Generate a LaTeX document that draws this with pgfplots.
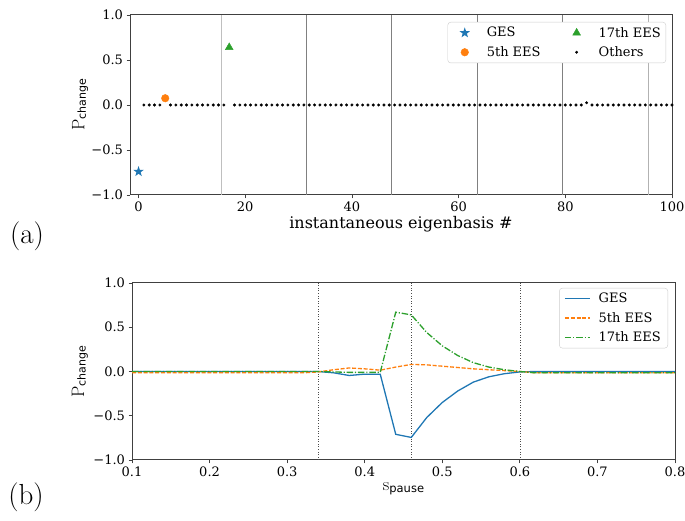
\documentclass[border=0pt]{standalone}
\usepackage{pgfplots}
\pgfplotsset{compat=1.18}
\usepackage{fontspec}
\setmainfont{DejaVu Serif}
\newfontfamily\lmfont{Latin Modern Roman}
\newfontfamily\dvsans{DejaVu Sans}

\definecolor{c0}{HTML}{1F77B4}
\definecolor{c1}{HTML}{FF7F0E}
\definecolor{c2}{HTML}{2CA02C}

% filled five-point star
\pgfdeclareplotmark{fstar}{%
  \pgfpathmoveto{\pgfpointpolar{90}{\pgfplotmarksize}}%
  \pgfpathlineto{\pgfpointpolar{126}{0.4\pgfplotmarksize}}%
  \pgfpathlineto{\pgfpointpolar{162}{\pgfplotmarksize}}%
  \pgfpathlineto{\pgfpointpolar{198}{0.4\pgfplotmarksize}}%
  \pgfpathlineto{\pgfpointpolar{234}{\pgfplotmarksize}}%
  \pgfpathlineto{\pgfpointpolar{270}{0.4\pgfplotmarksize}}%
  \pgfpathlineto{\pgfpointpolar{306}{\pgfplotmarksize}}%
  \pgfpathlineto{\pgfpointpolar{342}{0.4\pgfplotmarksize}}%
  \pgfpathlineto{\pgfpointpolar{18}{\pgfplotmarksize}}%
  \pgfpathlineto{\pgfpointpolar{54}{0.4\pgfplotmarksize}}%
  \pgfpathclose\pgfusepathqfill}

\newcommand{\tickfont}{\fontsize{13}{15}\selectfont}
\newcommand{\pchange}{{\lmfont\fontsize{18}{18}\selectfont P}\raisebox{-1.5pt}{\dvsans\fontsize{11}{11}\selectfont change}}
\newcommand{\spause}{{\lmfont\fontsize{18}{18}\selectfont s}\raisebox{-1.5pt}{\dvsans\fontsize{11.5}{12}\selectfont pause}}

\pgfplotstableread{
x y
1 0
2 0
3 0
4 0
6 0
7 0
8 0
9 0
10 0
11 0
12 0
13 0
14 0
15 0
16 0
18 0
19 0
20 0
21 0
22 0
23 0
24 0
25 0
26 0
27 0
28 0
29 0
30 0
31 0
32 0
33 0
34 0
35 0
36 0
37 0
38 0
39 0
40 0
41 0
42 0
43 0
44 0
45 0
46 0
47 0
48 0
49 0
50 0
51 0
52 0
53 0
54 0
55 0
56 0
57 0
58 0
59 0
60 0
61 0
62 0
63 0
64 0
65 0
66 0
67 0
68 0
69 0
70 0
71 0
72 0
73 0
74 0
75 0
76 0
77 0
78 0
79 0
80 0
81 0
82 0
83 0
84 0.025
85 0
86 0
87 0
88 0
89 0
90 0
91 0
92 0
93 0
94 0
95 0
96 0
97 0
98 0
99 0
100 0
}\others

\pgfplotstableread{
s ges ees5 ees17
0.10 0 -0.015 0
0.12 0 -0.015 0
0.14 0 -0.015 0
0.16 0 -0.015 0
0.18 0 -0.015 0
0.20 0 -0.015 0
0.22 0 -0.015 0
0.24 0 -0.015 0
0.26 0 -0.015 0
0.28 0 -0.015 0
0.30 0 -0.015 0
0.32 0 -0.015 0
0.34 0 -0.005 0
0.36 -0.015 0.02 -0.005
0.38 -0.045 0.04 -0.01
0.40 -0.03 0.03 -0.01
0.42 -0.03 0.015 -0.01
0.44 -0.71 0.05 0.67
0.46 -0.745 0.08 0.64
0.48 -0.52 0.075 0.44
0.50 -0.35 0.06 0.29
0.52 -0.22 0.045 0.18
0.54 -0.12 0.03 0.10
0.56 -0.06 0.02 0.05
0.58 -0.025 0.01 0.02
0.60 -0.005 0.0 0.0
0.62 0 -0.015 -0.015
0.64 0 -0.015 -0.015
0.66 0 -0.015 -0.015
0.68 0 -0.015 -0.015
0.70 0 -0.015 -0.015
0.72 0 -0.015 -0.015
0.74 0 -0.015 -0.015
0.76 0 -0.015 -0.015
0.78 0 -0.015 -0.015
0.80 0 -0.015 -0.015
}\pause

\pgfplotsset{
  panel/.style={
    scale only axis,
    ymin=-1, ymax=1,
    ytick={-1,-0.5,0,0.5,1},
    yticklabels={−1.0,−0.5,0.0,0.5,1.0},
    tick align=outside,
    xtick pos=bottom, ytick pos=left,
    major tick length=3.5pt,
    tick style={black!75, line width=0.8pt},
    axis line style={black!75, line width=1pt},
    ticklabel style={font=\tickfont},
    legend style={font=\tickfont, draw=black!20, rounded corners=3pt,
      fill=white, anchor=north east,
      inner xsep=3pt, inner ysep=3pt, row sep=4pt},
    legend cell align=left,
  },
  % marker legend entry: invisible box for width, mark at 14pt
  lgmark/.style={legend image code/.code={%
    \pgfpathrectangle{\pgfpoint{0pt}{-4pt}}{\pgfpoint{34pt}{8pt}}\pgfusepath{discard}%
    \draw[##1] plot coordinates {(14pt,0pt)};}},
}

\begin{document}
\begin{tikzpicture}
\path[use as bounding box] (0,0) rectangle (685pt,521pt);

% (a)
\begin{axis}[panel,
  at={(130pt,326pt)}, anchor=south west,
  width=542pt, height=180pt,
  xmin=-1.6, xmax=100,
  xtick={0,20,40,60,80,100},
  xticklabels={0,20,40,60,80,100},
  xlabel={instantaneous eigenbasis \#},
  xlabel style={font=\fontsize{16}{18}\selectfont, at={(axis description cs:0.5,-0.16)}, anchor=center},
  ylabel={\pchange},
  ylabel style={at={(axis description cs:-0.092,0.5)}, anchor=center},
  legend columns=2,
  legend style={at={(1,1)}, xshift=-6pt, yshift=-7pt,
    /tikz/every even column/.append style={column sep=20pt}},
]
\addplot[gray!50, line width=1pt, forget plot] coordinates {(15.5,-1) (15.5,1)};
\addplot[gray, line width=1pt, forget plot] coordinates {(31.5,-1) (31.5,1)};
\addplot[gray, line width=1pt, forget plot] coordinates {(47.5,-1) (47.5,1)};
\addplot[gray, line width=1pt, forget plot] coordinates {(63.5,-1) (63.5,1)};
\addplot[gray, line width=1pt, forget plot] coordinates {(79.5,-1) (79.5,1)};
\addplot[gray!60, line width=1pt, forget plot] coordinates {(95.5,-1) (95.5,1)};

\addplot[only marks, mark=fstar, mark size=5.5pt, c0, lgmark] coordinates {(0,-0.74)};
\addplot[only marks, mark=triangle*, mark size=4.5pt, c2, lgmark] coordinates {(17,0.64)};
\addplot[only marks, mark=*, mark size=3.8pt, c1, lgmark] coordinates {(5,0.075)};
\addplot[only marks, mark=*, mark size=1.3pt, black, lgmark] table[x=x, y=y] {\others};
\legend{GES, 17th EES, 5th EES, Others}
\node[anchor=south west, font=\tickfont, inner sep=1pt] at (rel axis cs:0,1) {1e−2};
\end{axis}

% (b)
\begin{axis}[panel,
  at={(132pt,61pt)}, anchor=south west,
  width=543pt, height=177pt,
  xmin=0.1, xmax=0.8,
  xtick={0.1,0.2,0.3,0.4,0.5,0.6,0.7,0.8},
  xticklabels={0.1,0.2,0.3,0.4,0.5,0.6,0.7,0.8},
  xlabel={\spause},
  xlabel style={at={(axis description cs:0.5,-0.163)}, anchor=center},
  ylabel={\pchange},
  ylabel style={at={(axis description cs:-0.096,0.5)}, anchor=center},
  legend style={at={(1,1)}, xshift=-7pt, yshift=-5pt, inner xsep=5pt,
    /tikz/every odd column/.append style={column sep=6pt}},
  legend image code/.code={\draw[#1] (0pt,0pt) -- (25pt,0pt);},
]
\addplot[black!70, dotted, line width=0.6pt, forget plot] coordinates {(0.34,-1) (0.34,1)};
\addplot[black!70, dotted, line width=0.6pt, forget plot] coordinates {(0.46,-1) (0.46,1)};
\addplot[black!70, dotted, line width=0.6pt, forget plot] coordinates {(0.6,-1) (0.6,1)};

\addplot[c0, line width=1.3pt] table[x=s, y=ges] {\pause};
\addplot[c1, line width=1.3pt, dash pattern=on 4pt off 1.8pt] table[x=s, y=ees5] {\pause};
\addplot[c2, line width=1.3pt, dash pattern=on 6.5pt off 1.8pt on 1.2pt off 1.8pt] table[x=s, y=ees17] {\pause};
\legend{GES, 5th EES, 17th EES}
\node[anchor=south west, font=\tickfont, inner sep=1pt] at (rel axis cs:0,1) {1e−2};
\end{axis}

\node[font=\lmfont\fontsize{29}{31}\selectfont] at (27pt,285pt) {(a)};
\node[font=\lmfont\fontsize{29}{31}\selectfont] at (26pt,24pt) {(b)};
\end{tikzpicture}
\end{document}
